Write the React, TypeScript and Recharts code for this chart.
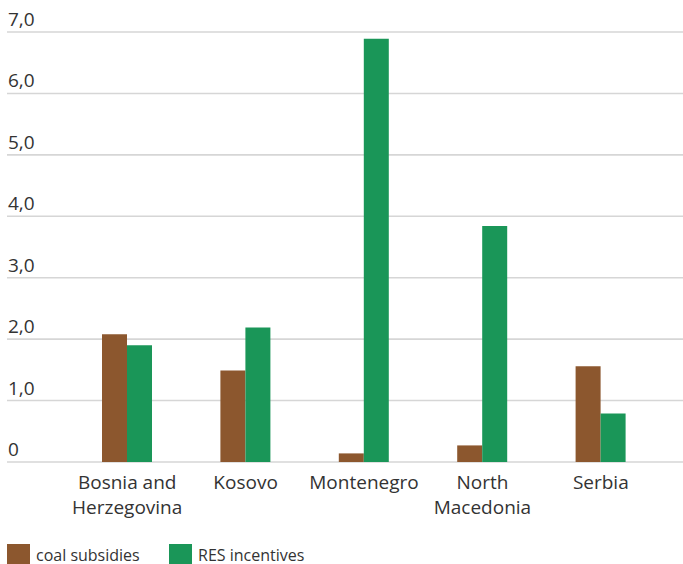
import { BarChart, Bar, XAxis, YAxis, CartesianGrid } from "recharts";

const countries = ["Bosnia and Herzegovina", "Kosovo", "Montenegro", "North Macedonia", "Serbia"];
const coalSubsidies = [2.08, 1.49, 0.14, 0.27, 1.56];
const resIncentives = [1.9, 2.19, 6.89, 3.84, 0.79];
const yTicks = [0, 1, 2, 3, 4, 5, 6, 7];

// the x labels break over two lines where the name is long
const labelLines: Record<string, string[]> = {
  "Bosnia and Herzegovina": ["Bosnia and", "Herzegovina"],
  "North Macedonia": ["North", "Macedonia"],
};

const series = [
  { key: "coal", name: "coal subsidies", color: "#8C572E" },
  { key: "res", name: "RES incentives", color: "#1A9658" },
];

const data = countries.map((country, i) => ({
  country,
  coal: coalSubsidies[i],
  res: resIncentives[i],
}));

const FONT = "'Open Sans', 'Noto Sans', sans-serif";
const TEXT = "#333333";

const formatTick = (v: number) => (v === 0 ? "0" : v.toFixed(1).replace(".", ","));

const YTick = ({ y, payload }: any) => (
  <text x={8} y={y - 6} fill={TEXT} fontSize={19} fontFamily={FONT} textAnchor="start">
    {formatTick(payload.value)}
  </text>
);

const XTick = ({ x, y, payload }: any) => {
  const lines = labelLines[payload.value] ?? [payload.value];
  return (
    <text x={x} y={y} fill={TEXT} fontSize={19} fontFamily={FONT} textAnchor="middle">
      {lines.map((line, i) => (
        <tspan key={line} x={x} y={y + 19 + i * 25}>
          {line}
        </tspan>
      ))}
    </text>
  );
};

export default function App() {
  return (
    <div style={{ position: "absolute", left: 0, top: 0, width: 683, height: 564, background: "#fff", overflow: "hidden" }}>
      <BarChart
        width={683}
        height={564}
        data={data}
        margin={{ top: 32, right: 0, left: 6, bottom: 0 }}
        barGap={0}
        barSize={25}
      >
        <CartesianGrid vertical={false} stroke="#d6d6d6" strokeWidth={1.6} />
        <XAxis
          dataKey="country"
          axisLine={false}
          tickLine={false}
          interval={0}
          height={102}
          padding={{ left: 61, right: 23 }}
          tick={<XTick />}
        />
        <YAxis
          width={1}
          domain={[0, 7]}
          ticks={yTicks}
          axisLine={false}
          tickLine={false}
          tick={<YTick />}
        />
        {series.map((s) => (
          <Bar key={s.key} dataKey={s.key} name={s.name} fill={s.color} isAnimationActive={false} />
        ))}
      </BarChart>
      <div
        style={{
          position: "absolute",
          left: 7,
          top: 544,
          height: 20,
          display: "flex",
          fontFamily: FONT,
          fontSize: 16,
          color: TEXT,
          lineHeight: "18px",
        }}
      >
        {series.map((s) => (
          <div key={s.key} style={{ display: "flex", alignItems: "flex-start", width: 162 }}>
            <span style={{ width: 23, height: 20, background: s.color, marginRight: 6, flexShrink: 0 }} />
            <span style={{ marginTop: 2, whiteSpace: "nowrap" }}>{s.name}</span>
          </div>
        ))}
      </div>
    </div>
  );
}
